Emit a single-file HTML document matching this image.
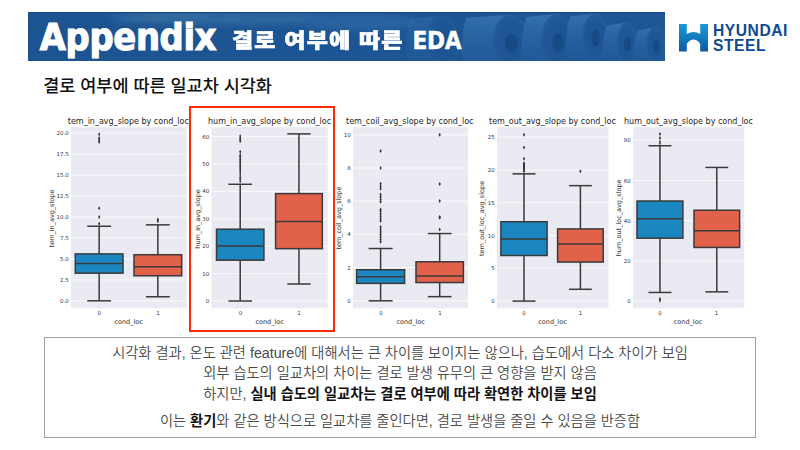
<!DOCTYPE html>
<html lang="ko"><head><meta charset="utf-8">
<style>
*{margin:0;padding:0;box-sizing:border-box}
html,body{width:800px;height:450px;background:#fff;overflow:hidden;position:relative}
body{font-family:"Liberation Sans","Noto Sans CJK KR",sans-serif}
.abs{position:absolute}
#banner{left:28px;top:12px;width:637px;height:49px;background:#1c5392;overflow:hidden}
#banner svg{position:absolute;left:0;top:0}
#t1{left:39.8px;top:18.9px;font:bold 37.5px/1 "DejaVu Sans",sans-serif;font-stretch:condensed;color:#fff;white-space:nowrap;-webkit-text-stroke:1.1px #fff;letter-spacing:-0.3px}
#t2{left:232px;top:30.5px;font:900 23px/1 "Liberation Sans","Noto Sans CJK KR",sans-serif;color:#fff;white-space:nowrap;letter-spacing:1.2px;-webkit-text-stroke:0.7px #fff;transform:scaleY(0.9);transform-origin:0 0}
#t3{left:412.6px;top:28.6px;font:bold 24.2px/1 "DejaVu Sans",sans-serif;font-stretch:condensed;color:#fff;-webkit-text-stroke:0.4px #fff;letter-spacing:-0.4px;white-space:nowrap}
#logo-t{left:713px;top:24.4px;font:bold 15.6px/14.4px "Liberation Sans",sans-serif;color:#0d4a8f;white-space:nowrap;letter-spacing:0.55px}
#sub{left:43.2px;top:78px;font:500 17.5px/1 "Liberation Sans","Noto Sans CJK KR",sans-serif;color:#111;white-space:nowrap}
#charts{left:0;top:0}
.tk{font:5.5px "DejaVu Sans",sans-serif;fill:#383838}
.lb{font:6.5px "DejaVu Sans",sans-serif;fill:#333}
.tt{font:8px "DejaVu Sans",sans-serif;fill:#262626}
.ln{stroke:#3a3a3a;stroke-width:1.5;fill-opacity:1}
#redbox{left:189px;top:106px;width:146px;height:226px;border:2.7px solid #ff2a00}
#tbox{left:44px;top:337px;width:712px;height:101px;border:1.2px solid #a0a0a0}
.tl{position:absolute;left:0;width:100%;text-align:center;font:14.25px/1 "Liberation Sans","Noto Sans CJK KR",sans-serif;color:#4a4a4a;white-space:nowrap;font-weight:350}
.tl b{color:#111;font-weight:700}
</style></head><body>
<div id="banner" class="abs">
<svg width="637" height="49" viewBox="0 0 637 49">
 <defs>
  <linearGradient id="bg" x1="0" y1="0" x2="1" y2="0">
   <stop offset="0" stop-color="#1c5391"/><stop offset="0.6" stop-color="#1d5594"/><stop offset="1" stop-color="#1e5696"/>
  </linearGradient>
  <radialGradient id="face" cx="0.5" cy="0.5" r="0.5">
   <stop offset="0" stop-color="#1d5393"/><stop offset="0.75" stop-color="#1f5696"/><stop offset="1" stop-color="#265d9e"/>
  </radialGradient>
  <linearGradient id="body" x1="0" y1="0" x2="0" y2="1">
   <stop offset="0" stop-color="#3470ac"/><stop offset="0.4" stop-color="#2862a1"/><stop offset="1" stop-color="#1e5596"/>
  </linearGradient>
  <filter id="blur" x="-20%" y="-100%" width="140%" height="300%"><feGaussianBlur stdDeviation="3"/></filter>
  <linearGradient id="hl" x1="0" y1="0" x2="0" y2="1">
   <stop offset="0" stop-color="#3a7ab0" stop-opacity="0.5"/><stop offset="1" stop-color="#3a7ab0" stop-opacity="0"/>
  </linearGradient>
 </defs>
 <rect width="637" height="49" fill="url(#bg)"/>
 <g filter="url(#blur)" opacity="0.4">
  <ellipse cx="200" cy="6" rx="120" ry="7" fill="#4a86b8"/>
  <ellipse cx="140" cy="4" rx="40" ry="4" fill="#5a92b0"/>
  <ellipse cx="330" cy="10" rx="60" ry="9" fill="#3d78b0"/>
 </g>
 <g opacity="0.5"><path d="M382 7.0Q375 30.0 380 56.0L414 56.0L414 4.0Z" fill="url(#body)"/><ellipse cx="414" cy="30.0" rx="17" ry="26" fill="url(#face)"/><ellipse cx="414.8" cy="30.0" rx="5.6" ry="8.6" fill="#164a85"/></g><g opacity="1"><path d="M438 5.7Q431 31.0 436 59.3L482.5 59.3L482.5 2.7Z" fill="url(#body)"/><ellipse cx="482.5" cy="31.0" rx="18.5" ry="28.3" fill="url(#face)"/><ellipse cx="483.3" cy="31.0" rx="6.1" ry="9.3" fill="#164a85"/></g><g opacity="1"><path d="M498 5.0Q491 30.5 496 59.0L529.3 59.0L529.3 2.0Z" fill="url(#body)"/><ellipse cx="529.3" cy="30.5" rx="17.2" ry="28.5" fill="url(#face)"/><ellipse cx="530.1" cy="30.5" rx="5.7" ry="9.4" fill="#164a85"/></g><g opacity="1"><path d="M542 4.4Q535 26.2 540 51.0L566.8 51.0L566.8 1.4Z" fill="url(#body)"/><ellipse cx="566.8" cy="26.2" rx="12.8" ry="24.8" fill="url(#face)"/><ellipse cx="567.6" cy="26.2" rx="4.2" ry="8.2" fill="#164a85"/></g><g opacity="1"><path d="M579 13.4Q572 32.4 577 54.4L598.7 54.4L598.7 10.4Z" fill="url(#body)"/><ellipse cx="598.7" cy="32.4" rx="10.3" ry="22" fill="url(#face)"/><ellipse cx="599.5" cy="32.4" rx="3.4" ry="7.3" fill="#164a85"/></g><g opacity="1"><path d="M610 18.2Q603 34.5 608 53.8L627.5 53.8L627.5 15.2Z" fill="url(#body)"/><ellipse cx="627.5" cy="34.5" rx="9.5" ry="19.3" fill="url(#face)"/><ellipse cx="628.3" cy="34.5" rx="3.1" ry="6.4" fill="#164a85"/></g>
 <rect x="0" y="0" width="637" height="1.2" fill="#174a86"/>
</svg>
</div>
<div id="t1" class="abs">Appendix</div>
<div id="t2" class="abs">결로 여부에 따른</div>
<div id="t3" class="abs">EDA</div>
<svg class="abs" style="left:679px;top:23.5px" width="29" height="28" viewBox="0 0 29 28">
 <defs><linearGradient id="hg" x1="0" y1="0" x2="0" y2="1"><stop offset="0" stop-color="#1b9ad8"/><stop offset="1" stop-color="#0a5aa6"/></linearGradient></defs>
 <path d="M0 0H7.8V10Q14.5 6 21.2 10V0H29V27.5H21.2V19.8Q14.5 11.4 7.8 19.8V27.5H0Z" fill="url(#hg)"/>
</svg>
<div id="logo-t" class="abs">HYUNDAI<br>STEEL</div>
<div id="sub" class="abs">결로 여부에 따른 일교차 시각화</div>
<svg id="charts" class="abs" width="800" height="450" viewBox="0 0 800 450">
<rect x="71" y="127.1" width="115.80" height="181.10" fill="#eaeaf2"/>
<line x1="71" x2="186.8" y1="300.80" y2="300.80" stroke="#fff" stroke-width="0.8"/>
<text x="68.70" y="302.80" class="tk" text-anchor="end">0.0</text>
<line x1="71" x2="186.8" y1="279.86" y2="279.86" stroke="#fff" stroke-width="0.8"/>
<text x="68.70" y="281.86" class="tk" text-anchor="end">2.5</text>
<line x1="71" x2="186.8" y1="258.93" y2="258.93" stroke="#fff" stroke-width="0.8"/>
<text x="68.70" y="260.93" class="tk" text-anchor="end">5.0</text>
<line x1="71" x2="186.8" y1="237.99" y2="237.99" stroke="#fff" stroke-width="0.8"/>
<text x="68.70" y="239.99" class="tk" text-anchor="end">7.5</text>
<line x1="71" x2="186.8" y1="217.05" y2="217.05" stroke="#fff" stroke-width="0.8"/>
<text x="68.70" y="219.05" class="tk" text-anchor="end">10.0</text>
<line x1="71" x2="186.8" y1="196.11" y2="196.11" stroke="#fff" stroke-width="0.8"/>
<text x="68.70" y="198.11" class="tk" text-anchor="end">12.5</text>
<line x1="71" x2="186.8" y1="175.18" y2="175.18" stroke="#fff" stroke-width="0.8"/>
<text x="68.70" y="177.18" class="tk" text-anchor="end">15.0</text>
<line x1="71" x2="186.8" y1="154.24" y2="154.24" stroke="#fff" stroke-width="0.8"/>
<text x="68.70" y="156.24" class="tk" text-anchor="end">17.5</text>
<line x1="71" x2="186.8" y1="133.30" y2="133.30" stroke="#fff" stroke-width="0.8"/>
<text x="68.70" y="135.30" class="tk" text-anchor="end">20.0</text>
<line x1="99.15" x2="99.15" y1="273.16" y2="300.80" class="ln"/>
<line x1="99.15" x2="99.15" y1="253.90" y2="226.26" class="ln"/>
<line x1="87.23" x2="111.08" y1="300.80" y2="300.80" class="ln"/>
<line x1="87.23" x2="111.08" y1="226.26" y2="226.26" class="ln"/>
<rect x="75.3" y="253.90" width="47.70" height="19.26" fill="#1a87c0" class="ln"/>
<line x1="75.3" x2="123" y1="263.45" y2="263.45" class="ln"/>
<path d="M99.15 221.75L100.25 223.75L99.15 225.75L98.05 223.75Z" fill="#333"/>
<path d="M99.15 215.05L100.25 217.05L99.15 219.05L98.05 217.05Z" fill="#333"/>
<path d="M99.15 206.26L100.25 208.26L99.15 210.26L98.05 208.26Z" fill="#333"/>
<path d="M99.15 140.09L100.25 142.09L99.15 144.09L98.05 142.09Z" fill="#333"/>
<path d="M99.15 138.00L100.25 140.00L99.15 142.00L98.05 140.00Z" fill="#333"/>
<path d="M99.15 135.91L100.25 137.91L99.15 139.91L98.05 137.91Z" fill="#333"/>
<path d="M99.15 132.14L100.25 134.14L99.15 136.14L98.05 134.14Z" fill="#333"/>
<line x1="157.85" x2="157.85" y1="275.76" y2="296.78" class="ln"/>
<line x1="157.85" x2="157.85" y1="254.74" y2="224.84" class="ln"/>
<line x1="145.93" x2="169.77" y1="296.78" y2="296.78" class="ln"/>
<line x1="145.93" x2="169.77" y1="224.84" y2="224.84" class="ln"/>
<rect x="134" y="254.74" width="47.70" height="21.02" fill="#e2614a" class="ln"/>
<line x1="134" x2="181.7" y1="266.80" y2="266.80" class="ln"/>
<path d="M157.85 219.24L158.95 221.24L157.85 223.24L156.75 221.24Z" fill="#333"/>
<path d="M157.85 217.56L158.95 219.56L157.85 221.56L156.75 219.56Z" fill="#333"/>
<text x="67.8" y="124.2" class="tt">tem_in_avg_slope by cond_loc</text>
<text x="99.3" y="314.8" class="tk" text-anchor="middle">0</text>
<text x="158" y="314.8" class="tk" text-anchor="middle">1</text>
<text x="128.6" y="323.8" class="lb" text-anchor="middle">cond_loc</text>
<text transform="translate(54.3,218.50) rotate(-90)" class="lb" text-anchor="middle">tem_in_avg_slope</text>
<rect x="211.5" y="127.1" width="116.20" height="181.10" fill="#eaeaf2"/>
<line x1="211.5" x2="327.7" y1="301.00" y2="301.00" stroke="#fff" stroke-width="0.8"/>
<text x="209.20" y="303.00" class="tk" text-anchor="end">0</text>
<line x1="211.5" x2="327.7" y1="273.60" y2="273.60" stroke="#fff" stroke-width="0.8"/>
<text x="209.20" y="275.60" class="tk" text-anchor="end">10</text>
<line x1="211.5" x2="327.7" y1="246.20" y2="246.20" stroke="#fff" stroke-width="0.8"/>
<text x="209.20" y="248.20" class="tk" text-anchor="end">20</text>
<line x1="211.5" x2="327.7" y1="218.80" y2="218.80" stroke="#fff" stroke-width="0.8"/>
<text x="209.20" y="220.80" class="tk" text-anchor="end">30</text>
<line x1="211.5" x2="327.7" y1="191.40" y2="191.40" stroke="#fff" stroke-width="0.8"/>
<text x="209.20" y="193.40" class="tk" text-anchor="end">40</text>
<line x1="211.5" x2="327.7" y1="164.00" y2="164.00" stroke="#fff" stroke-width="0.8"/>
<text x="209.20" y="166.00" class="tk" text-anchor="end">50</text>
<line x1="211.5" x2="327.7" y1="136.60" y2="136.60" stroke="#fff" stroke-width="0.8"/>
<text x="209.20" y="138.60" class="tk" text-anchor="end">60</text>
<line x1="240.20" x2="240.20" y1="260.17" y2="301.00" class="ln"/>
<line x1="240.20" x2="240.20" y1="229.21" y2="184.28" class="ln"/>
<line x1="228.35" x2="252.05" y1="301.00" y2="301.00" class="ln"/>
<line x1="228.35" x2="252.05" y1="184.28" y2="184.28" class="ln"/>
<rect x="216.5" y="229.21" width="47.40" height="30.96" fill="#1a87c0" class="ln"/>
<line x1="216.5" x2="263.9" y1="245.93" y2="245.93" class="ln"/>
<path d="M240.20 179.54L241.05 181.54L240.20 183.54L239.35 181.54Z" fill="#333"/>
<path d="M240.20 177.34L241.05 179.34L240.20 181.34L239.35 179.34Z" fill="#333"/>
<path d="M240.20 175.15L241.05 177.15L240.20 179.15L239.35 177.15Z" fill="#333"/>
<path d="M240.20 172.96L241.05 174.96L240.20 176.96L239.35 174.96Z" fill="#333"/>
<path d="M240.20 170.77L241.05 172.77L240.20 174.77L239.35 172.77Z" fill="#333"/>
<path d="M240.20 169.12L241.05 171.12L240.20 173.12L239.35 171.12Z" fill="#333"/>
<path d="M240.20 167.48L241.05 169.48L240.20 171.48L239.35 169.48Z" fill="#333"/>
<path d="M240.20 165.84L241.05 167.84L240.20 169.84L239.35 167.84Z" fill="#333"/>
<path d="M240.20 164.19L241.05 166.19L240.20 168.19L239.35 166.19Z" fill="#333"/>
<path d="M240.20 162.55L241.05 164.55L240.20 166.55L239.35 164.55Z" fill="#333"/>
<path d="M240.20 160.90L241.05 162.90L240.20 164.90L239.35 162.90Z" fill="#333"/>
<path d="M240.20 159.26L241.05 161.26L240.20 163.26L239.35 161.26Z" fill="#333"/>
<path d="M240.20 157.62L241.05 159.62L240.20 161.62L239.35 159.62Z" fill="#333"/>
<path d="M240.20 155.97L241.05 157.97L240.20 159.97L239.35 157.97Z" fill="#333"/>
<path d="M240.20 154.33L241.05 156.33L240.20 158.33L239.35 156.33Z" fill="#333"/>
<path d="M240.20 152.68L241.05 154.68L240.20 156.68L239.35 154.68Z" fill="#333"/>
<path d="M240.20 149.67L241.30 151.67L240.20 153.67L239.10 151.67Z" fill="#333"/>
<path d="M240.20 139.26L241.05 141.26L240.20 143.26L239.35 141.26Z" fill="#333"/>
<path d="M240.20 137.34L241.05 139.34L240.20 141.34L239.35 139.34Z" fill="#333"/>
<path d="M240.20 135.70L241.05 137.70L240.20 139.70L239.35 137.70Z" fill="#333"/>
<path d="M240.20 134.05L241.05 136.05L240.20 138.05L239.35 136.05Z" fill="#333"/>
<line x1="298.95" x2="298.95" y1="248.67" y2="284.01" class="ln"/>
<line x1="298.95" x2="298.95" y1="193.59" y2="133.86" class="ln"/>
<line x1="287.28" x2="310.63" y1="284.01" y2="284.01" class="ln"/>
<line x1="287.28" x2="310.63" y1="133.86" y2="133.86" class="ln"/>
<rect x="275.6" y="193.59" width="46.70" height="55.07" fill="#e2614a" class="ln"/>
<line x1="275.6" x2="322.3" y1="221.54" y2="221.54" class="ln"/>
<text x="208" y="124.2" class="tt">hum_in_avg_slope by cond_loc</text>
<text x="240.5" y="314.8" class="tk" text-anchor="middle">0</text>
<text x="299" y="314.8" class="tk" text-anchor="middle">1</text>
<text x="269.6" y="323.8" class="lb" text-anchor="middle">cond_loc</text>
<text transform="translate(200.3,218.90) rotate(-90)" class="lb" text-anchor="middle">hum_in_avg_slope</text>
<rect x="353" y="127.1" width="115.00" height="181.10" fill="#eaeaf2"/>
<line x1="353" x2="468" y1="300.80" y2="300.80" stroke="#fff" stroke-width="0.8"/>
<text x="350.70" y="302.80" class="tk" text-anchor="end">0</text>
<line x1="353" x2="468" y1="267.60" y2="267.60" stroke="#fff" stroke-width="0.8"/>
<text x="350.70" y="269.60" class="tk" text-anchor="end">2</text>
<line x1="353" x2="468" y1="234.40" y2="234.40" stroke="#fff" stroke-width="0.8"/>
<text x="350.70" y="236.40" class="tk" text-anchor="end">4</text>
<line x1="353" x2="468" y1="201.20" y2="201.20" stroke="#fff" stroke-width="0.8"/>
<text x="350.70" y="203.20" class="tk" text-anchor="end">6</text>
<line x1="353" x2="468" y1="168.00" y2="168.00" stroke="#fff" stroke-width="0.8"/>
<text x="350.70" y="170.00" class="tk" text-anchor="end">8</text>
<line x1="353" x2="468" y1="134.80" y2="134.80" stroke="#fff" stroke-width="0.8"/>
<text x="350.70" y="136.80" class="tk" text-anchor="end">10</text>
<line x1="380.60" x2="380.60" y1="283.37" y2="300.80" class="ln"/>
<line x1="380.60" x2="380.60" y1="269.76" y2="248.51" class="ln"/>
<line x1="368.60" x2="392.60" y1="300.80" y2="300.80" class="ln"/>
<line x1="368.60" x2="392.60" y1="248.51" y2="248.51" class="ln"/>
<rect x="356.6" y="269.76" width="48.00" height="13.61" fill="#1a87c0" class="ln"/>
<line x1="356.6" x2="404.6" y1="276.73" y2="276.73" class="ln"/>
<path d="M380.60 239.87L381.70 241.87L380.60 243.87L379.50 241.87Z" fill="#333"/>
<path d="M380.60 237.38L381.70 239.38L380.60 241.38L379.50 239.38Z" fill="#333"/>
<path d="M380.60 234.89L381.70 236.89L380.60 238.89L379.50 236.89Z" fill="#333"/>
<path d="M380.60 232.40L381.70 234.40L380.60 236.40L379.50 234.40Z" fill="#333"/>
<path d="M380.60 229.91L381.70 231.91L380.60 233.91L379.50 231.91Z" fill="#333"/>
<path d="M380.60 227.42L381.70 229.42L380.60 231.42L379.50 229.42Z" fill="#333"/>
<path d="M380.60 224.93L381.70 226.93L380.60 228.93L379.50 226.93Z" fill="#333"/>
<path d="M380.60 219.12L381.70 221.12L380.60 223.12L379.50 221.12Z" fill="#333"/>
<path d="M380.60 216.63L381.70 218.63L380.60 220.63L379.50 218.63Z" fill="#333"/>
<path d="M380.60 214.14L381.70 216.14L380.60 218.14L379.50 216.14Z" fill="#333"/>
<path d="M380.60 211.65L381.70 213.65L380.60 215.65L379.50 213.65Z" fill="#333"/>
<path d="M380.60 209.16L381.70 211.16L380.60 213.16L379.50 211.16Z" fill="#333"/>
<path d="M380.60 207.50L381.70 209.50L380.60 211.50L379.50 209.50Z" fill="#333"/>
<path d="M380.60 199.70L381.70 201.70L380.60 203.70L379.50 201.70Z" fill="#333"/>
<path d="M380.60 197.54L381.70 199.54L380.60 201.54L379.50 199.54Z" fill="#333"/>
<path d="M380.60 195.05L381.70 197.05L380.60 199.05L379.50 197.05Z" fill="#333"/>
<path d="M380.60 192.56L381.70 194.56L380.60 196.56L379.50 194.56Z" fill="#333"/>
<path d="M380.60 186.75L381.70 188.75L380.60 190.75L379.50 188.75Z" fill="#333"/>
<path d="M380.60 184.26L381.70 186.26L380.60 188.26L379.50 186.26Z" fill="#333"/>
<path d="M380.60 181.77L381.70 183.77L380.60 185.77L379.50 183.77Z" fill="#333"/>
<path d="M380.60 166.00L381.70 168.00L380.60 170.00L379.50 168.00Z" fill="#333"/>
<path d="M380.60 149.07L381.70 151.07L380.60 153.07L379.50 151.07Z" fill="#333"/>
<line x1="439.70" x2="439.70" y1="282.54" y2="296.65" class="ln"/>
<line x1="439.70" x2="439.70" y1="261.79" y2="233.57" class="ln"/>
<line x1="427.85" x2="451.55" y1="296.65" y2="296.65" class="ln"/>
<line x1="427.85" x2="451.55" y1="233.57" y2="233.57" class="ln"/>
<rect x="416" y="261.79" width="47.40" height="20.75" fill="#e2614a" class="ln"/>
<line x1="416" x2="463.4" y1="275.90" y2="275.90" class="ln"/>
<path d="M439.70 227.42L440.80 229.42L439.70 231.42L438.60 229.42Z" fill="#333"/>
<path d="M439.70 215.80L440.80 217.80L439.70 219.80L438.60 217.80Z" fill="#333"/>
<path d="M439.70 214.97L440.80 216.97L439.70 218.97L438.60 216.97Z" fill="#333"/>
<path d="M439.70 199.03L440.80 201.03L439.70 203.03L438.60 201.03Z" fill="#333"/>
<path d="M439.70 181.94L440.80 183.94L439.70 185.94L438.60 183.94Z" fill="#333"/>
<path d="M439.70 132.80L440.80 134.80L439.70 136.80L438.60 134.80Z" fill="#333"/>
<text x="346" y="124.2" class="tt">tem_coil_avg_slope by cond_loc</text>
<text x="381" y="314.8" class="tk" text-anchor="middle">0</text>
<text x="440" y="314.8" class="tk" text-anchor="middle">1</text>
<text x="410.6" y="323.8" class="lb" text-anchor="middle">cond_loc</text>
<text transform="translate(340.5,218.10) rotate(-90)" class="lb" text-anchor="middle">tem_coil_avg_slope</text>
<rect x="497" y="127.1" width="111.50" height="181.10" fill="#eaeaf2"/>
<line x1="497" x2="608.5" y1="301.10" y2="301.10" stroke="#fff" stroke-width="0.8"/>
<text x="494.70" y="303.10" class="tk" text-anchor="end">0</text>
<line x1="497" x2="608.5" y1="268.30" y2="268.30" stroke="#fff" stroke-width="0.8"/>
<text x="494.70" y="270.30" class="tk" text-anchor="end">5</text>
<line x1="497" x2="608.5" y1="235.50" y2="235.50" stroke="#fff" stroke-width="0.8"/>
<text x="494.70" y="237.50" class="tk" text-anchor="end">10</text>
<line x1="497" x2="608.5" y1="202.70" y2="202.70" stroke="#fff" stroke-width="0.8"/>
<text x="494.70" y="204.70" class="tk" text-anchor="end">15</text>
<line x1="497" x2="608.5" y1="169.90" y2="169.90" stroke="#fff" stroke-width="0.8"/>
<text x="494.70" y="171.90" class="tk" text-anchor="end">20</text>
<line x1="497" x2="608.5" y1="137.10" y2="137.10" stroke="#fff" stroke-width="0.8"/>
<text x="494.70" y="139.10" class="tk" text-anchor="end">25</text>
<line x1="524.00" x2="524.00" y1="255.51" y2="301.10" class="ln"/>
<line x1="524.00" x2="524.00" y1="221.72" y2="173.84" class="ln"/>
<line x1="512.45" x2="535.55" y1="301.10" y2="301.10" class="ln"/>
<line x1="512.45" x2="535.55" y1="173.84" y2="173.84" class="ln"/>
<rect x="500.9" y="221.72" width="46.20" height="33.78" fill="#1a87c0" class="ln"/>
<line x1="500.9" x2="547.1" y1="239.11" y2="239.11" class="ln"/>
<path d="M524.00 169.21L525.10 171.21L524.00 173.21L522.90 171.21Z" fill="#333"/>
<path d="M524.00 167.90L525.10 169.90L524.00 171.90L522.90 169.90Z" fill="#333"/>
<path d="M524.00 166.59L525.10 168.59L524.00 170.59L522.90 168.59Z" fill="#333"/>
<path d="M524.00 165.28L525.10 167.28L524.00 169.28L522.90 167.28Z" fill="#333"/>
<path d="M524.00 163.96L525.10 165.96L524.00 167.96L522.90 165.96Z" fill="#333"/>
<path d="M524.00 162.65L525.10 164.65L524.00 166.65L522.90 164.65Z" fill="#333"/>
<path d="M524.00 161.34L525.10 163.34L524.00 165.34L522.90 163.34Z" fill="#333"/>
<path d="M524.00 156.75L525.10 158.75L524.00 160.75L522.90 158.75Z" fill="#333"/>
<path d="M524.00 145.60L525.10 147.60L524.00 149.60L522.90 147.60Z" fill="#333"/>
<path d="M524.00 132.80L525.10 134.80L524.00 136.80L522.90 134.80Z" fill="#333"/>
<line x1="580.40" x2="580.40" y1="262.07" y2="289.29" class="ln"/>
<line x1="580.40" x2="580.40" y1="228.94" y2="185.64" class="ln"/>
<line x1="569.00" x2="591.80" y1="289.29" y2="289.29" class="ln"/>
<line x1="569.00" x2="591.80" y1="185.64" y2="185.64" class="ln"/>
<rect x="557.6" y="228.94" width="45.60" height="33.13" fill="#e2614a" class="ln"/>
<line x1="557.6" x2="603.2" y1="244.03" y2="244.03" class="ln"/>
<path d="M580.40 169.21L581.50 171.21L580.40 173.21L579.30 171.21Z" fill="#333"/>
<text x="489" y="124.2" class="tt">tem_out_avg_slope by cond_loc</text>
<text x="524" y="314.8" class="tk" text-anchor="middle">0</text>
<text x="580.4" y="314.8" class="tk" text-anchor="middle">1</text>
<text x="552.5" y="323.8" class="lb" text-anchor="middle">cond_loc</text>
<text transform="translate(484,218.40) rotate(-90)" class="lb" text-anchor="middle">tem_out_loc_avg_slope</text>
<rect x="633" y="127.1" width="111.20" height="181.10" fill="#eaeaf2"/>
<line x1="633" x2="744.2" y1="301.10" y2="301.10" stroke="#fff" stroke-width="0.8"/>
<text x="630.70" y="303.10" class="tk" text-anchor="end">0</text>
<line x1="633" x2="744.2" y1="260.90" y2="260.90" stroke="#fff" stroke-width="0.8"/>
<text x="630.70" y="262.90" class="tk" text-anchor="end">20</text>
<line x1="633" x2="744.2" y1="220.70" y2="220.70" stroke="#fff" stroke-width="0.8"/>
<text x="630.70" y="222.70" class="tk" text-anchor="end">40</text>
<line x1="633" x2="744.2" y1="180.50" y2="180.50" stroke="#fff" stroke-width="0.8"/>
<text x="630.70" y="182.50" class="tk" text-anchor="end">60</text>
<line x1="633" x2="744.2" y1="140.30" y2="140.30" stroke="#fff" stroke-width="0.8"/>
<text x="630.70" y="142.30" class="tk" text-anchor="end">80</text>
<line x1="659.95" x2="659.95" y1="238.19" y2="292.46" class="ln"/>
<line x1="659.95" x2="659.95" y1="201.00" y2="145.73" class="ln"/>
<line x1="648.48" x2="671.43" y1="292.46" y2="292.46" class="ln"/>
<line x1="648.48" x2="671.43" y1="145.73" y2="145.73" class="ln"/>
<rect x="637" y="201.00" width="45.90" height="37.18" fill="#1a87c0" class="ln"/>
<line x1="637" x2="682.9" y1="218.69" y2="218.69" class="ln"/>
<path d="M659.95 298.70L660.80 300.70L659.95 302.70L659.10 300.70Z" fill="#333"/>
<path d="M659.95 297.69L660.80 299.69L659.95 301.69L659.10 299.69Z" fill="#333"/>
<path d="M659.95 296.69L660.80 298.69L659.95 300.69L659.10 298.69Z" fill="#333"/>
<path d="M659.95 141.52L660.80 143.52L659.95 145.52L659.10 143.52Z" fill="#333"/>
<path d="M659.95 139.51L660.80 141.51L659.95 143.51L659.10 141.51Z" fill="#333"/>
<path d="M659.95 136.09L661.05 138.09L659.95 140.09L658.85 138.09Z" fill="#333"/>
<path d="M659.95 132.07L661.05 134.07L659.95 136.07L658.85 134.07Z" fill="#333"/>
<line x1="716.80" x2="716.80" y1="247.43" y2="291.85" class="ln"/>
<line x1="716.80" x2="716.80" y1="210.25" y2="167.44" class="ln"/>
<line x1="705.40" x2="728.20" y1="291.85" y2="291.85" class="ln"/>
<line x1="705.40" x2="728.20" y1="167.44" y2="167.44" class="ln"/>
<rect x="694" y="210.25" width="45.60" height="37.18" fill="#e2614a" class="ln"/>
<line x1="694" x2="739.6" y1="230.75" y2="230.75" class="ln"/>
<text x="624" y="124.2" class="tt">hum_out_avg_slope by cond_loc</text>
<text x="660" y="314.8" class="tk" text-anchor="middle">0</text>
<text x="716.5" y="314.8" class="tk" text-anchor="middle">1</text>
<text x="688" y="323.8" class="lb" text-anchor="middle">cond_loc</text>
<text transform="translate(620.8,217.90) rotate(-90)" class="lb" text-anchor="middle">hum_out_loc_avg_slope</text>
</svg>
<div id="redbox" class="abs"></div>
<div id="tbox" class="abs">
 <div class="tl" style="top:8.2px">시각화 결과, 온도 관련 feature에 대해서는 큰 차이를 보이지는 않으나, 습도에서 다소 차이가 보임</div>
 <div class="tl" style="top:28.2px">외부 습도의 일교차의 차이는 결로 발생 유무의 큰 영향을 받지 않음</div>
 <div class="tl" style="top:48.9px">하지만, <b>실내 습도의 일교차는 결로 여부에 따라 확연한 차이를 보임</b></div>
 <div class="tl" style="top:76px">이는 <b>환기</b>와 같은 방식으로 일교차를 줄인다면, 결로 발생을 줄일 수 있음을 반증함</div>
</div>
</body></html>
